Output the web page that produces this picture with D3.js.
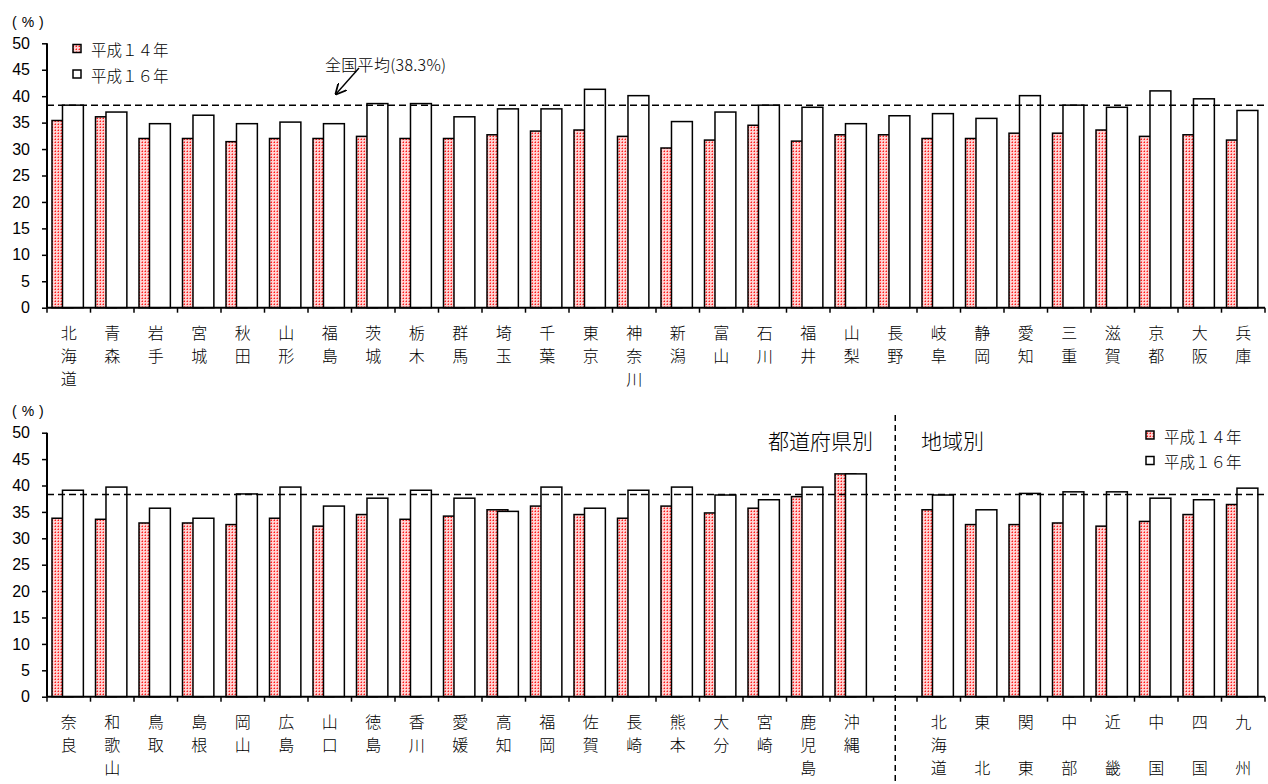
<!DOCTYPE html>
<html><head><meta charset="utf-8">
<script src="https://cdn.jsdelivr.net/npm/d3@7"></script>
<style>
html,body{margin:0;padding:0;background:#fff;}
svg{display:block;}
</style></head>
<body>
<svg id="chart" width="1268" height="784"></svg>
<script>
// ---- data ----
const topCategories = ["北海道","青森","岩手","宮城","秋田","山形","福島","茨城","栃木","群馬","埼玉","千葉","東京","神奈川","新潟","富山","石川","福井","山梨","長野","岐阜","静岡","愛知","三重","滋賀","京都","大阪","兵庫"];
const topH14 = [35.4,36.1,32.0,32.0,31.4,32.0,32.0,32.4,32.0,32.0,32.7,33.4,33.6,32.4,30.2,31.7,34.5,31.5,32.7,32.7,32.0,32.0,33.0,33.0,33.6,32.4,32.7,31.7];
const topH16 = [38.3,37.0,34.8,36.4,34.8,35.1,34.8,38.6,38.6,36.1,37.6,37.6,41.3,40.1,35.2,37.0,38.3,37.9,34.8,36.3,36.7,35.8,40.1,38.3,37.9,41.0,39.5,37.3];

const bottomCategories = ["奈良","和歌山","鳥取","島根","岡山","広島","山口","徳島","香川","愛媛","高知","福岡","佐賀","長崎","熊本","大分","宮崎","鹿児島","沖縄","","北海道","東　北","関　東","中　部","近　畿","中　国","四　国","九　州"];
const bottomH14 = [33.8,33.6,32.9,32.9,32.6,33.8,32.3,34.5,33.6,34.2,35.4,36.1,34.5,33.8,36.1,34.8,35.7,37.9,42.2,null,35.4,32.6,32.6,32.9,32.3,33.2,34.5,36.4];
const bottomH16 = [39.1,39.7,35.7,33.8,38.4,39.7,36.1,37.6,39.1,37.6,35.1,39.7,35.7,39.1,39.7,38.2,37.3,39.7,42.2,null,38.2,35.4,38.5,38.8,38.8,37.6,37.3,39.5];

const seriesNames = ["平成１４年","平成１６年"];
const yTicks = [0,5,10,15,20,25,30,35,40,45,50];
const nationalAverage = 38.3;
const averageLabel = "全国平均(38.3%)";
const unitLabel = "(%)";
const sectionLabels = ["都道府県別","地域別"];

// ---- drawing ----
const svg = d3.select("#chart");
const JP = "'Noto Sans CJK JP','Noto Sans',sans-serif";
const NUM = "'Liberation Sans',Arial,sans-serif";

const defs = svg.append("defs");
const pat = defs.append("pattern").attr("id","dots").attr("patternUnits","userSpaceOnUse")
  .attr("width",3).attr("height",3);
pat.append("rect").attr("width",3).attr("height",3).attr("fill","#ffd2d2").attr("shape-rendering","crispEdges");
pat.append("rect").attr("x",1).attr("y",1).attr("width",1).attr("height",1).attr("fill","#ff1a1a").attr("shape-rendering","crispEdges");
pat.append("rect").attr("x",0).attr("y",1).attr("width",1).attr("height",1).attr("fill","#ff7a7a").attr("shape-rendering","crispEdges");
pat.append("rect").attr("x",1).attr("y",0).attr("width",1).attr("height",1).attr("fill","#ff7a7a").attr("shape-rendering","crispEdges");

const leftX = 47, rightX = 1265;

function drawPanel(cfg){
  const g = svg.append("g");
  const x = d3.scaleBand().domain(d3.range(cfg.cats.length)).range([leftX,rightX]).padding(0);
  const y = d3.scaleLinear().domain([0,50]).range([cfg.y0,cfg.y50]);
  const bw = x.bandwidth();

  cfg.cats.forEach((c,i)=>{
    const v14 = cfg.h14[i], v16 = cfg.h16[i];
    if (v14 == null) return;
    const bx = x(i);
    g.append("rect").attr("x",bx+bw*0.115).attr("y",y(v14)).attr("width",bw*0.48)
      .attr("height",y(0)-y(v14)).attr("fill","url(#dots)").attr("stroke","#000").attr("stroke-width",1.5);
    g.append("rect").attr("x",bx+bw*0.356).attr("y",y(v16)).attr("width",bw*0.48)
      .attr("height",y(0)-y(v16)).attr("fill","#fff").attr("stroke","#000").attr("stroke-width",1.5);
  });

  g.append("line").attr("x1",leftX).attr("x2",rightX).attr("y1",y(nationalAverage)).attr("y2",y(nationalAverage))
    .attr("stroke","#000").attr("stroke-width",1.5).attr("stroke-dasharray","7,4");

  const ya = d3.axisLeft(y).tickValues(yTicks).tickSize(5).tickPadding(12);
  const yg = g.append("g").attr("transform",`translate(${leftX},0)`).call(ya);
  yg.select(".domain").attr("stroke","#000").attr("stroke-width",2).attr("d",`M0,${y(50)}V${y(0)}`);
  yg.selectAll(".tick line").attr("stroke","#000").attr("stroke-width",1.5);
  yg.selectAll(".tick text").attr("font-family",NUM).attr("font-size",16).attr("fill","#000");

  g.append("line").attr("x1",leftX).attr("x2",rightX).attr("y1",y(0)).attr("y2",y(0))
    .attr("stroke","#000").attr("stroke-width",2);
  d3.range(cfg.cats.length+1).forEach(k=>{
    const tx = leftX + k*bw;
    g.append("line").attr("x1",tx).attr("x2",tx).attr("y1",y(0)).attr("y2",y(0)+5)
      .attr("stroke","#000").attr("stroke-width",1.5);
  });

  cfg.cats.forEach((c,i)=>{
    const cx = x(i)+bw/2;
    Array.from(c).forEach((ch,j)=>{
      g.append("text").attr("x",cx).attr("y",y(0)+24+j*23).attr("text-anchor","middle")
        .attr("dominant-baseline","central").attr("font-family",JP).attr("font-size",16)
        .attr("font-weight",300).attr("fill","#000").text(ch);
    });
  });

  g.append("text").attr("x",12).attr("y",cfg.unitY).attr("dominant-baseline","central")
    .attr("font-family",NUM).attr("font-size",14).attr("letter-spacing",5).attr("fill","#000").text(unitLabel);

  return {x,y,g,bw};
}

const topPanel = drawPanel({cats:topCategories,h14:topH14,h16:topH16,y0:307.7,y50:43.3,unitY:22});
const botPanel = drawPanel({cats:bottomCategories,h14:bottomH14,h16:bottomH16,y0:696.7,y50:432.7,unitY:411});

function legend(lx, ly){
  const lg = svg.append("g");
  seriesNames.forEach((s,i)=>{
    const yy = ly + i*25.5;
    lg.append("rect").attr("x",lx).attr("y",yy-4.5).attr("width",8).attr("height",8)
      .attr("fill", i===0 ? "url(#dots)" : "#fff").attr("stroke","#000").attr("stroke-width",1.5);
    lg.append("text").attr("x",lx+18).attr("y",yy).attr("dominant-baseline","central")
      .attr("font-family",JP).attr("font-size",15.5).attr("font-weight",300).attr("fill","#000").text(s);
  });
}
legend(73, 49);
legend(1146, 435.5);

svg.append("text").attr("x",325).attr("y",64).attr("dominant-baseline","central")
  .attr("font-family",JP).attr("font-size",16).attr("font-weight",300).attr("letter-spacing",0.3)
  .attr("fill","#000").text(averageLabel);
defs.append("marker").attr("id","arr").attr("viewBox","0 0 10 10").attr("refX",9).attr("refY",5)
  .attr("markerWidth",8).attr("markerHeight",8).attr("orient","auto")
  .append("path").attr("d","M0,0 L10,5 L0,10").attr("fill","none").attr("stroke","#000").attr("stroke-width",1.6);
svg.append("line").attr("x1",359).attr("y1",68).attr("x2",336).attr("y2",94)
  .attr("stroke","#000").attr("stroke-width",1.4).attr("marker-end","url(#arr)");

const divX = leftX + 19.5*botPanel.bw;
svg.append("line").attr("x1",divX).attr("x2",divX).attr("y1",415).attr("y2",784)
  .attr("stroke","#000").attr("stroke-width",1.5).attr("stroke-dasharray","6,4");
svg.append("text").attr("x",873).attr("y",440).attr("text-anchor","end").attr("dominant-baseline","central")
  .attr("font-family",JP).attr("font-size",21).attr("font-weight",300).attr("fill","#000").text(sectionLabels[0]);
svg.append("text").attr("x",921).attr("y",440).attr("dominant-baseline","central")
  .attr("font-family",JP).attr("font-size",21).attr("font-weight",300).attr("fill","#000").text(sectionLabels[1]);
</script>
</body></html>
